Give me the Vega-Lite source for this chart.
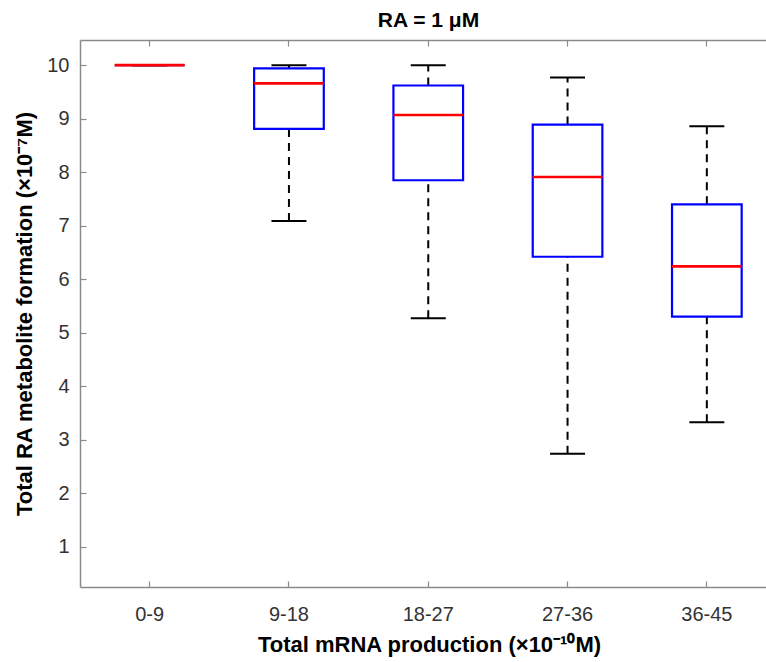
{
  "$schema": "https://vega.github.io/schema/vega-lite/v6.json",
  "autosize": {"type": "none"},
  "width": 687,
  "height": 547,
  "padding": {"left": 80, "top": 40, "right": 0, "bottom": 75},
  "background": "white",
  "title": {"text": "RA = 1 μM", "font": "Liberation Sans", "fontSize": 21, "fontWeight": "bold", "color": "#000000", "offset": 8, "anchor": "middle", "dx": 5},
  "data": {"values": [
    {"bin": "0-9", "lower": 10, "q1": 10, "median": 10, "q3": 10, "upper": 10},
    {"bin": "9-18", "lower": 7.09, "q1": 8.81, "median": 9.66, "q3": 9.94, "upper": 10.0},
    {"bin": "18-27", "lower": 5.27, "q1": 7.85, "median": 9.07, "q3": 9.62, "upper": 10.0},
    {"bin": "27-36", "lower": 2.74, "q1": 6.42, "median": 7.91, "q3": 8.89, "upper": 9.77},
    {"bin": "36-45", "lower": 3.33, "q1": 5.30, "median": 6.24, "q3": 7.40, "upper": 8.86}
  ]},
  "resolve": {"axis": {"x": "independent"}},
  "encoding": {
    "x": {"field": "bin", "type": "nominal", "sort": null, "axis": null,
      "scale": {"paddingInner": 0.5, "paddingOuter": 0.216, "align": 0.579}}
  },
  "layer": [
    {
      "mark": {"type": "rule", "color": "#000000", "strokeWidth": 2, "strokeDash": [8, 6]},
      "encoding": {
        "x": {"field": "bin", "type": "nominal", "sort": null,
          "axis": {"orient": "bottom", "title": "Total mRNA production (×10⁻¹⁰M)", "labelAngle": 0, "tickSize": -6, "labelPadding": 23, "titlePadding": 10, "titleX": 349}},
        "y": {"field": "q3", "type": "quantitative",
          "scale": {"domain": [0.25, 10.47], "nice": false, "zero": false},
          "axis": {"values": [1,2,3,4,5,6,7,8,9,10], "title": "Total RA metabolite formation (×10⁻⁷M)", "tickSize": -6, "labelPadding": 17, "grid": false, "titlePadding": 10}},
        "y2": {"field": "upper"}
      }
    },
    {
      "mark": {"type": "rule", "color": "#000000", "strokeWidth": 2, "strokeDash": [8, 6]},
      "encoding": {
        "x": {"field": "bin", "type": "nominal", "sort": null,
          "axis": {"orient": "top", "labels": false, "title": null, "tickSize": -6}},
        "y": {"field": "lower", "type": "quantitative"},
        "y2": {"field": "q1"}
      }
    },
    {
      "mark": {"type": "tick", "color": "#000000", "thickness": 2, "size": 35, "opacity": 1},
      "encoding": {"y": {"field": "upper", "type": "quantitative"}}
    },
    {
      "mark": {"type": "tick", "color": "#000000", "thickness": 2, "size": 35, "opacity": 1},
      "encoding": {"y": {"field": "lower", "type": "quantitative"}}
    },
    {
      "mark": {"type": "bar", "fillOpacity": 0, "stroke": "#0000ff", "strokeWidth": 2.2},
      "encoding": {"y": {"field": "q1", "type": "quantitative"}, "y2": {"field": "q3"}}
    },
    {
      "mark": {"type": "tick", "color": "#ff0000", "thickness": 2.6, "size": 70, "opacity": 1},
      "encoding": {"y": {"field": "median", "type": "quantitative"}}
    }
  ],
  "config": {
    "view": {"stroke": null},
    "axis": {
      "domainColor": "#8a8a8a", "domainWidth": 1.5, "tickColor": "#8a8a8a", "tickWidth": 1.2,
      "labelColor": "#333333", "labelFont": "Liberation Sans", "labelFontSize": 20,
      "titleFont": "Liberation Sans", "titleFontSize": 22, "titleFontWeight": "bold", "titleColor": "#000000",
      "grid": false
    }
  }
}
